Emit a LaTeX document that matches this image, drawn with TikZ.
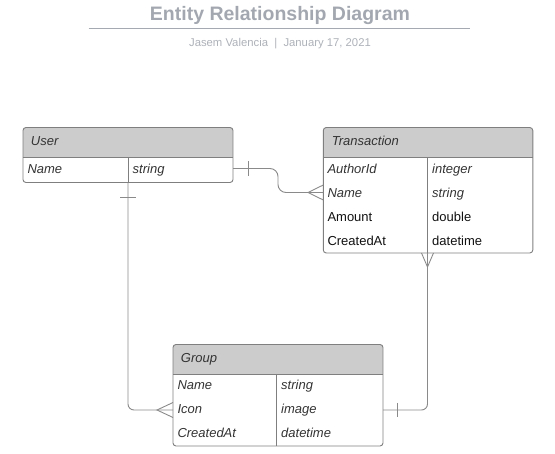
\documentclass[tikz,border=0pt]{standalone}
\usepackage{fontspec}
\setmainfont{Liberation Sans}
\usetikzlibrary{calc}
\definecolor{titlegray}{HTML}{A3A8B0}
\definecolor{subgray}{HTML}{ADB1B8}
\definecolor{rulegray}{HTML}{A5AAB2}
\definecolor{hdrfill}{HTML}{CCCCCC}
\definecolor{boxline}{HTML}{7F7F7F}
\definecolor{connline}{HTML}{8A8A8A}
\definecolor{txt}{HTML}{333333}
\definecolor{txtb}{HTML}{111111}
\begin{document}
\begin{tikzpicture}[x=1pt,y=-1pt,
  tblshape/.style={rectangle, inner sep=0pt, outer sep=0pt, anchor=north west},
  tblborder/.style={draw=boxline, line width=0.9pt, rounded corners=3pt},
  tblrule/.style={draw=boxline, line width=0.9pt},
  hd/.style={anchor=base west, inner sep=0pt, text=txt, font=\fontsize{13}{15}\selectfont\itshape},
  cell/.style={anchor=base west, inner sep=0pt, text=txt, font=\fontsize{13}{15}\selectfont\itshape},
  cellb/.style={anchor=base west, inner sep=0pt, text=txtb, font=\fontsize{13}{15}\selectfont},
  conn/.style={draw=connline, line width=0.9pt},
  ermark/.style={draw=connline, line width=0.9pt}
]
\useasboundingbox (0,0) rectangle (555,454);

% title
\node[anchor=base, inner sep=0pt, text=titlegray, font=\bfseries\fontsize{19.5}{22}\selectfont] (title) at (280,21) {Entity Relationship Diagram};
\draw[rulegray, line width=1pt] (88.5,28.3) -- (470,28.3);
\node[anchor=base, inner sep=0pt, text=subgray, font=\fontsize{11.3}{13}\selectfont] (sub) at (280,46.5) {Jasem Valencia\ \ |\ \ January 17, 2021};

% ---------- User ----------
\node[tblshape, minimum width=210pt, minimum height=55pt] (user) at (23,127.5) {};
\begin{scope}
  \clip[rounded corners=3pt] (user.north west) rectangle (user.south east);
  \fill[hdrfill] (user.north west) rectangle (user.east |- 0,157.5);
\end{scope}
\draw[tblborder] (user.north west) rectangle (user.south east);
\draw[tblrule] (user.west |- 0,157.5) -- (user.east |- 0,157.5);
\draw[tblrule] (128,157.5) -- (128,182.5);
\node[hd] (userh) at (30.7,145.6) {User};
\node[cell] (uname) at (27.3,173.7) {Name};
\node[cell] (utype) at (132.5,173.7) {string};

% ---------- Transaction ----------
\node[tblshape, minimum width=209.5pt, minimum height=125.5pt] (trans) at (323.3,127.5) {};
\begin{scope}
  \clip[rounded corners=3pt] (trans.north west) rectangle (trans.south east);
  \fill[hdrfill] (trans.north west) rectangle (trans.east |- 0,157.5);
\end{scope}
\draw[tblborder] (trans.north west) rectangle (trans.south east);
\draw[tblrule] (trans.west |- 0,157.5) -- (trans.east |- 0,157.5);
\draw[tblrule] (427.5,157.5) -- (427.5,253);
\node[hd] (transh) at (331.7,145.6) {Transaction};
\node[cell] (tauth) at (327.3,173.2) {AuthorId};
\node[cell] (tautht) at (432,173.2) {integer};
\node[cell] (tname) at (327.3,197.2) {Name};
\node[cell] (tnamet) at (432,197.2) {string};
\node[cellb] (tamt) at (327.3,221.2) {Amount};
\node[cellb] (tamtt) at (432,221.2) {double};
\node[cellb] (tcr) at (327.3,245.2) {CreatedAt};
\node[cellb] (tcrt) at (432,245.2) {datetime};

% ---------- Group ----------
\node[tblshape, minimum width=210pt, minimum height=101.5pt] (group) at (173,344.5) {};
\begin{scope}
  \clip[rounded corners=3pt] (group.north west) rectangle (group.south east);
  \fill[hdrfill] (group.north west) rectangle (group.east |- 0,374);
\end{scope}
\draw[tblborder] (group.north west) rectangle (group.south east);
\draw[tblrule] (group.west |- 0,374) -- (group.east |- 0,374);
\draw[tblrule] (276.5,374) -- (276.5,446);
\node[hd] (grouph) at (180.7,362.6) {Group};
\node[cell] (gname) at (177.3,389.7) {Name};
\node[cell] (gnamet) at (281,389.7) {string};
\node[cell] (gicon) at (177.3,413.7) {Icon};
\node[cell] (gicont) at (281,413.7) {image};
\node[cell] (gcr) at (177.3,437.7) {CreatedAt};
\node[cell] (gcrt) at (281,437.7) {datetime};

% ---------- connectors ----------
% User -> Transaction
\draw[conn, rounded corners=8pt] (user.east |- 0,168.5) -| (278,192.5) -- (trans.west |- 0,192.5);
\draw[ermark] (248,161.5) -- (248,176.5);
\draw[ermark] (trans.west |- 0,185) -- (308,192.5) -- (trans.west |- 0,200);

% User -> Group
\draw[conn, rounded corners=6pt] (user.south -| 128,0) |- (group.west |- 0,410);
\draw[ermark] (120,197) -- (136,197);
\draw[ermark] (group.west |- 0,402.5) -- (157,410) -- (group.west |- 0,417.5);

% Transaction -> Group
\draw[conn, rounded corners=6pt] (trans.south -| 427.5,0) |- (group.east |- 0,410);
\draw[ermark] (421.5,253) -- (427.5,267) -- (433.5,253);
\draw[ermark] (397.3,403) -- (397.3,417);
\end{tikzpicture}
\end{document}
